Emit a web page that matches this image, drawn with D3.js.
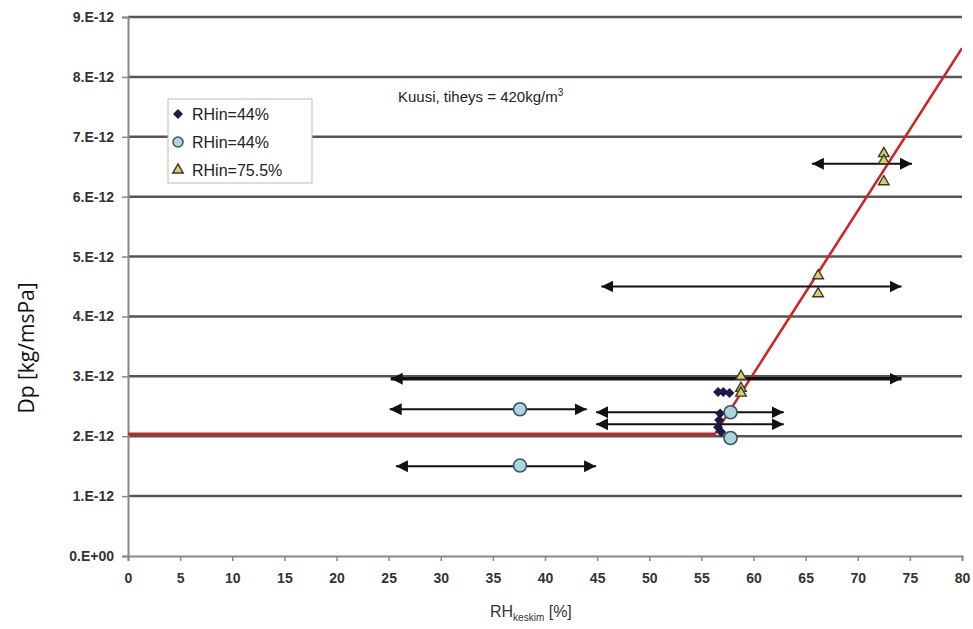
<!DOCTYPE html>
<html>
<head>
<meta charset="utf-8">
<script src="https://cdn.jsdelivr.net/npm/d3@7"></script>
<style>
  body { margin: 0; background: #fff; }
  text { font-family: "Liberation Sans", Arial, sans-serif; }
</style>
</head>
<body>
<div id="chart"></div>
<script>
// values are in units of 1e-12 kg/msPa
const xTicks = d3.range(0, 81, 5);
const yTicks = d3.range(0, 10, 1);

const diamondX = [56.6, 57.1, 57.7, 56.8, 56.7, 56.6, 56.9];
const diamondY = [2.74, 2.74, 2.72, 2.38, 2.27, 2.15, 2.07];

const circleX = [37.6, 37.6, 57.8, 57.8];
const circleY = [2.45, 1.51, 2.40, 1.97];

const triX = [58.8, 58.8, 58.8, 66.2, 66.2, 72.5, 72.5, 72.5];
const triY = [3.00, 2.80, 2.72, 4.68, 4.38, 6.72, 6.60, 6.25];

// horizontal range bars (double arrows)
const barY  = [2.96, 2.45, 1.50, 2.40, 2.20, 4.50, 6.55];
const barX0 = [25.2, 25.1, 25.7, 44.9, 44.9, 45.4, 65.6];
const barX1 = [74.2, 44.0, 44.9, 62.9, 62.9, 74.2, 75.2];
const barW  = [3.5, 2, 2, 2, 2, 2, 2];

// fitted curve
const fitX = [0, 56.3, 80];
const fitY = [2.04, 2.04, 8.48];

const legendLabels = ["RHin=44%", "RHin=44%", "RHin=75.5%"];

const width = 973, height = 629;
const margin = {top: 17, right: 11, bottom: 73, left: 128};
const innerW = width - margin.left - margin.right;
const innerH = height - margin.top - margin.bottom;

const x = d3.scaleLinear().domain([0, 80]).range([0, innerW]);
const y = d3.scaleLinear().domain([0, 9]).range([innerH, 0]);

const svg = d3.select("#chart").append("svg")
    .attr("width", width)
    .attr("height", height);

const defs = svg.append("defs");
defs.append("clipPath").attr("id", "plotClip")
    .append("rect").attr("width", innerW).attr("height", innerH);

["arrowEnd", "arrowStart"].forEach(id => defs.append("marker")
    .attr("id", id)
    .attr("viewBox", "0 0 10 10")
    .attr("refX", 10).attr("refY", 5)
    .attr("markerUnits", "userSpaceOnUse")
    .attr("markerWidth", 12).attr("markerHeight", 12)
    .attr("orient", id === "arrowEnd" ? "auto" : "auto-start-reverse")
    .append("path").attr("d", "M0,0L10,5L0,10Z").attr("fill", "#111"));

const g = svg.append("g").attr("transform", `translate(${margin.left},${margin.top})`);

// gridlines
g.append("g").selectAll("line")
    .data(yTicks.filter(d => d > 0))
    .join("line")
    .attr("x1", 0).attr("x2", innerW)
    .attr("y1", d => y(d)).attr("y2", d => y(d))
    .attr("stroke", "#555").attr("stroke-width", 2.5);

// axes
const fmtY = d => d === 0 ? "0.E+00" : `${d}.E-12`;
const yAxis = g.append("g")
    .call(d3.axisLeft(y).tickValues(yTicks).tickFormat(fmtY).tickSize(6).tickPadding(8));
const xAxis = g.append("g")
    .attr("transform", `translate(0,${innerH})`)
    .call(d3.axisBottom(x).tickValues(xTicks).tickSize(5).tickPadding(12));

[xAxis, yAxis].forEach(a => {
    a.select(".domain").attr("stroke", "#888").attr("stroke-width", 2);
    a.selectAll(".tick line").attr("stroke", "#888").attr("stroke-width", 1.5);
    a.selectAll(".tick text")
        .attr("fill", "#333")
        .style("font-size", "14px")
        .style("font-weight", "bold");
});

const plot = g.append("g").attr("clip-path", "url(#plotClip)");

// fitted red line
plot.append("path")
    .datum(fitX.map((d, i) => [d, fitY[i]]))
    .attr("fill", "none")
    .attr("stroke", "#d42020")
    .attr("stroke-width", 2.5)
    .attr("d", d3.line().x(d => x(d[0])).y(d => y(d[1])));

// range arrows
g.append("g").selectAll("line")
    .data(barY.map((d, i) => ({y: d, x0: barX0[i], x1: barX1[i], w: barW[i]})))
    .join("line")
    .attr("x1", d => x(d.x0)).attr("x2", d => x(d.x1))
    .attr("y1", d => y(d.y)).attr("y2", d => y(d.y))
    .attr("stroke", "#111")
    .attr("stroke-width", d => d.w)
    .attr("marker-start", "url(#arrowStart)")
    .attr("marker-end", "url(#arrowEnd)");

// markers
const diamond = d3.symbol().type(d3.symbolSquare).size(50);
const triangle = d3.symbol().type(d3.symbolTriangle).size(48);

const pts = g.append("g");
pts.selectAll(".dia")
    .data(diamondX.map((d, i) => [d, diamondY[i]]))
    .join("path").attr("class", "dia")
    .attr("transform", d => `translate(${x(d[0])},${y(d[1])}) rotate(45)`)
    .attr("d", diamond)
    .attr("fill", "#1b1b45");

pts.selectAll(".cir")
    .data(circleX.map((d, i) => [d, circleY[i]]))
    .join("circle").attr("class", "cir")
    .attr("cx", d => x(d[0])).attr("cy", d => y(d[1]))
    .attr("r", 6.5)
    .attr("fill", "#a9d6df")
    .attr("stroke", "#3b5560").attr("stroke-width", 1.6);

pts.selectAll(".tri")
    .data(triX.map((d, i) => [d, triY[i]]))
    .join("path").attr("class", "tri")
    .attr("transform", d => `translate(${x(d[0])},${y(d[1])})`)
    .attr("d", triangle)
    .attr("fill", "#d8cf6a")
    .attr("stroke", "#3a3a28").attr("stroke-width", 1.4);

// annotation
g.append("text")
    .attr("x", 398 - margin.left).attr("y", 102 - margin.top)
    .attr("fill", "#222")
    .style("font-size", "15px")
    .text("Kuusi, tiheys = 420kg/m")
    .append("tspan").attr("dy", -6).style("font-size", "10px").text("3");

// legend
const leg = svg.append("g").attr("transform", "translate(168,99)");
leg.append("rect")
    .attr("width", 144).attr("height", 84)
    .attr("fill", "#fff").attr("stroke", "#bbb").attr("stroke-width", 1);
const rows = leg.selectAll(".row").data(legendLabels)
    .join("g").attr("class", "row")
    .attr("transform", (d, i) => `translate(10,${15 + i * 28})`);
rows.append("text")
    .attr("x", 14).attr("dy", "0.35em")
    .attr("fill", "#222")
    .style("font-size", "16px")
    .text(d => d);
rows.filter((d, i) => i === 0).append("path")
    .attr("d", diamond).attr("transform", "rotate(45)").attr("fill", "#1b1b45");
rows.filter((d, i) => i === 1).append("circle")
    .attr("r", 5).attr("fill", "#a9d6df")
    .attr("stroke", "#3b5560").attr("stroke-width", 1.5);
rows.filter((d, i) => i === 2).append("path")
    .attr("d", triangle).attr("fill", "#d8cf6a")
    .attr("stroke", "#3a3a28").attr("stroke-width", 1.4);

// axis titles
svg.append("text")
    .attr("transform", `translate(34,348) rotate(-90)`)
    .attr("text-anchor", "middle")
    .attr("fill", "#111")
    .style("font-family", "'Open Sans', sans-serif")
    .style("font-size", "21px")
    .text("Dp [kg/msPa]");

const xt = svg.append("text")
    .attr("x", 490).attr("y", 617)
    .attr("fill", "#333")
    .style("font-size", "16px");
xt.append("tspan").text("RH");
xt.append("tspan").attr("dy", 4).style("font-size", "10px").text("keskim");
xt.append("tspan").attr("dy", -4).text(" [%]");
</script>
</body>
</html>
